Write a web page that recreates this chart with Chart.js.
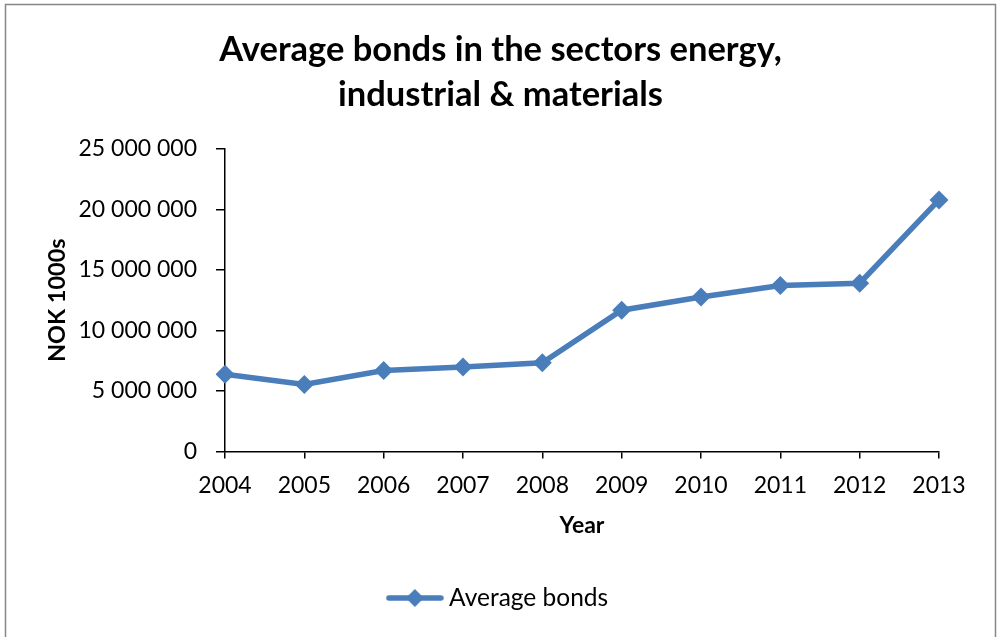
<!DOCTYPE html>
<html>
<head>
<meta charset="utf-8">
<script src="https://cdn.jsdelivr.net/npm/chart.js@4/dist/chart.umd.min.js"></script>
<style>
  html, body { margin: 0; padding: 0; background: #fff; }
  #wrap { width: 997px; height: 637px; }
</style>
</head>
<body>
<div id="wrap"><canvas id="myChart" width="997" height="637"></canvas></div>
<script>
var years = ['2004', '2005', '2006', '2007', '2008', '2009', '2010', '2011', '2012', '2013'];
var avgBonds = [6380000, 5530000, 6690000, 6970000, 7330000, 11670000, 12770000, 13710000, 13900000, 20790000];
var titleLines = ['Average bonds in the sectors energy,', 'industrial & materials'];

var lineBlue = '#4a7ebb';
var fontFamily = 'Lato, "Open Sans", sans-serif';

// 1 000 000 style numbers
function spaced(v) {
	return String(v).replace(/\B(?=(\d{3})+(?!\d))/g, ' ');
}

// legend icon: short line with a diamond in the middle
var legendIcon = document.createElement('canvas');
legendIcon.width = 58;
legendIcon.height = 20;
(function () {
	var c = legendIcon.getContext('2d');
	c.strokeStyle = lineBlue;
	c.fillStyle = lineBlue;
	c.lineWidth = 5.5;
	c.lineCap = 'round';
	c.beginPath();
	c.moveTo(3, 10);
	c.lineTo(55, 10);
	c.stroke();
	c.beginPath();
	c.moveTo(29, 1);
	c.lineTo(38, 10);
	c.lineTo(29, 19);
	c.lineTo(20, 10);
	c.closePath();
	c.fill();
})();

// grey frame round the whole chart
var frame = {
	id: 'frame',
	afterDraw: function (chart) {
		var ctx = chart.ctx;
		ctx.save();
		ctx.strokeStyle = '#868686';
		ctx.lineWidth = 1.5;
		ctx.strokeRect(5.5, 4.5, 990, 700);
		ctx.restore();
	}
};

new Chart('myChart', {
	type: 'line',
	data: {
		labels: years,
		datasets: [{
			label: 'Average bonds',
			data: avgBonds,
			borderColor: lineBlue,
			backgroundColor: lineBlue,
			borderWidth: 5.5,
			pointStyle: 'rectRot',
			pointRadius: 9.5,
			pointBorderWidth: 0,
			pointBackgroundColor: lineBlue,
			tension: 0,
			fill: false
		}]
	},
	plugins: [frame],
	options: {
		responsive: false,
		animation: false,
		layout: {
			padding: { left: 62, right: 58, top: 0, bottom: 16.8 }
		},
		plugins: {
			title: {
				display: true,
				text: titleLines,
				color: '#000',
				font: { family: fontFamily, size: 34.5, weight: 'bold', lineHeight: 1.304 },
				padding: { top: 27.5, bottom: 31.5 }
			},
			legend: {
				position: 'bottom',
				labels: {
					usePointStyle: true,
					pointStyle: legendIcon,
					pointStyleWidth: 44,
					color: '#000',
					padding: 10,
					font: { family: fontFamily, size: 24.5 }
				}
			},
			tooltip: { enabled: false }
		},
		scales: {
			x: {
				offset: false,
				afterFit: function (scale) { scale.height = 124.3; },
				border: { display: true, color: '#000', width: 1.5 },
				grid: { display: true, drawOnChartArea: false, color: '#000', lineWidth: 1.5, tickLength: 7 },
				ticks: { color: '#000', padding: 13, maxRotation: 0, font: { family: fontFamily, size: 23 } },
				title: {
					display: true,
					text: 'Year',
					color: '#000',
					font: { family: fontFamily, size: 23, weight: 'bold', lineHeight: 1.2 },
					padding: { top: 0, bottom: 36.5 }
				}
			},
			y: {
				min: 0,
				max: 25000000,
				afterFit: function (scale) { scale.width = 163; },
				border: { display: true, color: '#000', width: 1.5 },
				grid: { display: true, drawOnChartArea: false, color: '#000', lineWidth: 1.5, tickLength: 9 },
				ticks: {
					stepSize: 5000000,
					color: '#000',
					padding: 19,
					font: { family: fontFamily, size: 23 },
					callback: function (v) { return spaced(v); }
				},
				title: {
					display: true,
					text: 'NOK 1000s',
					color: '#000',
					font: { family: fontFamily, size: 23.5, weight: 'bold', lineHeight: 1.2 },
					padding: { top: -19, bottom: 0 }
				}
			}
		}
	}
});
</script>
</body>
</html>
